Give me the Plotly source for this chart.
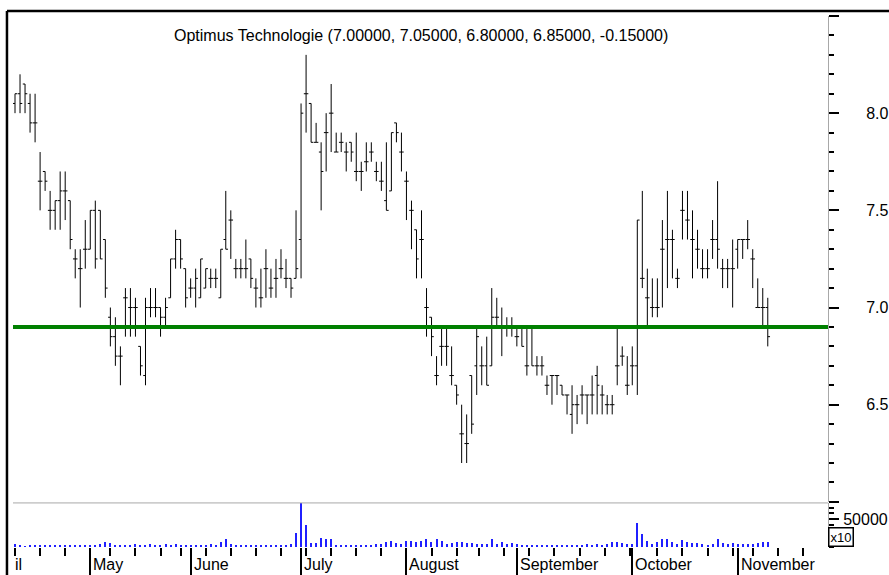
import plotly.graph_objects as go

# Daily OHLC for Optimus Technologie
opens = [
    8.05, 8.10, 8.15, 8.05, 7.95, 7.65, 7.70, 7.50, 7.50, 7.55,
    7.60, 7.55, 7.25, 7.20, 7.30, 7.30, 7.50, 7.50, 7.35, 6.95,
    6.85, 6.75, 7.05, 7.00, 7.00, 6.80, 6.65, 7.00, 7.00, 7.00,
    6.95, 7.05, 7.25, 7.35, 7.20, 7.10, 7.10, 7.05, 7.10, 7.15,
    7.15, 7.05, 7.35, 7.45, 7.20, 7.20, 7.20, 7.25, 7.10, 7.05,
    7.20, 7.10, 7.15, 7.20, 7.15, 7.15, 7.15, 7.35, 8.10, 8.05,
    7.85, 7.80, 7.90, 8.00, 7.80, 7.85, 7.80, 7.85, 7.70, 7.70,
    7.75, 7.80, 7.70, 7.65, 7.55, 7.60, 7.95, 7.80, 7.65, 7.50,
    7.40, 7.35, 7.00, 6.95, 6.65, 6.80, 6.80, 6.65, 6.60, 6.35,
    6.30, 6.65, 6.70, 6.70, 6.70, 6.70, 6.95, 6.90, 6.90, 6.90,
    6.85, 6.90, 6.70, 6.90, 6.70, 6.70, 6.60, 6.65, 6.65, 6.60,
    6.55, 6.45, 6.50, 6.55, 6.55, 6.55, 6.65, 6.55, 6.50, 6.50,
    6.70, 6.75, 6.60, 6.70, 6.70, 7.15, 7.05, 7.00, 7.00, 7.30,
    7.35, 7.35, 7.15, 7.50, 7.45, 7.35, 7.30, 7.20, 7.20, 7.35,
    7.35, 7.20, 7.20, 7.20, 7.30, 7.35, 7.35, 7.25, 7.00, 7.00, 7.00,
]
highs = [
    8.10, 8.20, 8.15, 8.10, 8.10, 7.80, 7.70, 7.60, 7.55, 7.70,
    7.70, 7.55, 7.30, 7.30, 7.45, 7.50, 7.55, 7.50, 7.35, 7.00,
    6.95, 6.80, 7.10, 7.10, 7.05, 6.80, 7.05, 7.10, 7.10, 7.00,
    7.05, 7.25, 7.40, 7.35, 7.20, 7.15, 7.20, 7.25, 7.20, 7.20,
    7.20, 7.30, 7.60, 7.50, 7.25, 7.25, 7.35, 7.25, 7.15, 7.20,
    7.30, 7.20, 7.25, 7.30, 7.25, 7.15, 7.50, 8.05, 8.30, 8.05,
    7.95, 7.85, 8.00, 8.15, 7.90, 7.90, 7.85, 7.85, 7.90, 7.75,
    7.85, 7.85, 7.75, 7.75, 7.85, 7.90, 7.95, 7.90, 7.70, 7.55,
    7.40, 7.50, 7.10, 6.95, 6.75, 6.90, 6.90, 6.80, 6.60, 6.50,
    6.45, 6.65, 6.90, 6.80, 6.85, 7.10, 7.05, 7.00, 6.95, 6.95,
    6.90, 6.90, 6.90, 6.90, 6.75, 6.75, 6.65, 6.65, 6.65, 6.60,
    6.55, 6.60, 6.55, 6.60, 6.55, 6.65, 6.70, 6.60, 6.55, 6.55,
    6.90, 6.80, 6.75, 6.80, 7.45, 7.60, 7.20, 7.15, 7.15, 7.45,
    7.60, 7.40, 7.20, 7.60, 7.60, 7.50, 7.40, 7.30, 7.30, 7.45,
    7.65, 7.25, 7.25, 7.35, 7.35, 7.35, 7.45, 7.30, 7.15, 7.10, 7.05,
]
lows = [
    8.00, 8.00, 8.00, 7.90, 7.85, 7.50, 7.60, 7.40, 7.40, 7.40,
    7.45, 7.30, 7.15, 7.00, 7.20, 7.30, 7.20, 7.25, 7.05, 6.80,
    6.70, 6.60, 6.85, 6.85, 6.85, 6.65, 6.60, 6.95, 6.95, 6.85,
    6.90, 7.05, 7.20, 7.20, 7.00, 7.05, 7.00, 7.05, 7.10, 7.10,
    7.10, 7.05, 7.30, 7.25, 7.15, 7.15, 7.15, 7.10, 7.00, 7.00,
    7.05, 7.05, 7.05, 7.15, 7.10, 7.05, 7.15, 7.15, 7.90, 7.85,
    7.85, 7.50, 7.70, 7.80, 7.80, 7.80, 7.70, 7.75, 7.65, 7.60,
    7.70, 7.75, 7.65, 7.60, 7.50, 7.60, 7.85, 7.70, 7.45, 7.30,
    7.15, 7.15, 6.85, 6.75, 6.60, 6.70, 6.70, 6.60, 6.50, 6.20,
    6.20, 6.35, 6.55, 6.60, 6.60, 6.70, 6.90, 6.75, 6.85, 6.85,
    6.80, 6.80, 6.65, 6.70, 6.65, 6.65, 6.55, 6.50, 6.55, 6.55,
    6.45, 6.35, 6.40, 6.45, 6.40, 6.45, 6.45, 6.45, 6.45, 6.45,
    6.60, 6.70, 6.55, 6.60, 6.55, 7.10, 6.90, 6.95, 6.95, 7.00,
    7.10, 7.15, 7.10, 7.35, 7.35, 7.15, 7.20, 7.15, 7.15, 7.25,
    7.20, 7.10, 7.10, 7.00, 7.20, 7.25, 7.30, 7.10, 7.00, 6.90, 6.80,
]
closes = [
    8.10, 8.05, 8.10, 7.95, 7.95, 7.65, 7.65, 7.50, 7.55, 7.60,
    7.60, 7.35, 7.25, 7.20, 7.30, 7.50, 7.25, 7.25, 7.10, 6.85,
    6.75, 6.75, 7.05, 7.00, 7.00, 6.70, 7.00, 7.00, 7.00, 6.95,
    7.00, 7.25, 7.35, 7.25, 7.05, 7.10, 7.15, 7.25, 7.20, 7.15,
    7.15, 7.30, 7.30, 7.45, 7.20, 7.20, 7.20, 7.15, 7.10, 7.05,
    7.20, 7.10, 7.15, 7.20, 7.15, 7.10, 7.20, 8.00, 8.10, 7.85,
    7.85, 7.70, 7.90, 8.00, 7.80, 7.85, 7.80, 7.80, 7.70, 7.70,
    7.75, 7.80, 7.70, 7.65, 7.50, 7.90, 7.90, 7.80, 7.65, 7.50,
    7.25, 7.35, 7.00, 6.85, 6.65, 6.80, 6.80, 6.65, 6.55, 6.35,
    6.30, 6.40, 6.85, 6.70, 6.60, 6.95, 6.95, 6.90, 6.90, 6.90,
    6.85, 6.80, 6.70, 6.70, 6.70, 6.70, 6.60, 6.65, 6.65, 6.55,
    6.55, 6.50, 6.50, 6.55, 6.55, 6.55, 6.60, 6.55, 6.50, 6.50,
    6.70, 6.75, 6.60, 6.70, 7.45, 7.15, 7.05, 7.00, 7.00, 7.30,
    7.35, 7.35, 7.15, 7.50, 7.45, 7.35, 7.30, 7.20, 7.20, 7.35,
    7.30, 7.20, 7.20, 7.20, 7.35, 7.35, 7.35, 7.25, 7.00, 7.00, 6.85,
]
volumes = [
    5000, 3500, 2500, 4500, 4000, 4500, 3500, 4000, 4500, 4000, 3500, 4500, 4000, 4500, 4000,
    4500, 4000, 5000, 9000, 7000, 4000, 4500, 4000, 4500, 6000, 4000, 4500, 5500, 4500, 4000,
    5500, 4500, 6000, 4500, 4000,
    4500, 4000, 4000, 4500, 5000, 4000, 9000, 14000, 6000, 4000, 4500, 4000, 4000, 4500, 4000,
    4000, 4500, 4000, 4500, 4000, 5000, 25000,
    78000, 39000, 7000, 7000, 16000, 14000, 14000, 4500, 4000, 4000, 4500, 4000, 4000, 4500,
    4000, 5000, 6000, 9000, 11000, 7000, 5000,
    11000, 11000, 9000, 11000, 14000, 9000, 14000, 11000, 6000, 8000, 9000, 9000, 8000, 8000,
    6000, 5000, 6000, 14000, 6000, 9000, 6000, 8000, 5000,
    4000, 4500, 4000, 4000, 4500, 4000, 4000, 4500, 4000, 4000, 4500, 4000, 4000, 5500, 4000,
    5000, 4000, 5500, 9000, 9000, 7000, 5000, 6000,
    43000, 23000, 11000, 6000, 9000, 14000, 14000, 9000, 6000, 12000, 9000, 8000, 8000, 6000,
    4000, 6000, 14000, 8000, 6000, 8000, 6000, 5000, 5000, 5000, 8000, 9000, 9000,
]
days = list(range(len(closes)))

# month boundaries (trading-day index) and week starts
month_labels = ["May", "June", "July", "August", "September", "October", "November"]
month_start = [15, 35, 57, 78, 100, 123, 144]
week_start = [0, 5, 10, 15, 19, 24, 29, 33, 38, 43, 48, 53, 58, 63, 68, 73, 78, 83, 88,
              92.5, 97.5, 102.5, 107.5, 112.5, 117.5, 122.5, 128, 133, 138, 143, 147, 152, 157]
price_ticks = [6.0, 6.5, 7.0, 7.5, 8.0, 8.5]
price_labels = ["", "6.5", "7.0", "7.5", "8.0", ""]
support_level = 6.9

title_text = "Optimus Technologie (7.00000, 7.05000, 6.80000, 6.85000, -0.15000)"
FONT = "Liberation Sans, Arial, sans-serif"

fig = go.Figure()

fig.add_trace(go.Ohlc(
    x=days, open=opens, high=highs, low=lows, close=closes,
    increasing=dict(line=dict(color="black", width=1)),
    decreasing=dict(line=dict(color="black", width=1)),
    tickwidth=0.45, xaxis="x", yaxis="y", showlegend=False, hoverinfo="skip",
))

fig.add_trace(go.Bar(
    x=days, y=volumes, width=0.22, marker=dict(color="#2020ff", line=dict(width=0)),
    xaxis="x", yaxis="y2", showlegend=False, hoverinfo="skip",
))

fig.update_layout(
    width=889, height=575,
    margin=dict(l=13, r=61, t=16, b=28),
    paper_bgcolor="white", plot_bgcolor="white",
    font=dict(family=FONT, size=16, color="black"),
    bargap=0,
    xaxis=dict(
        range=[-0.4, 162], anchor="y2", showgrid=False, zeroline=False, showline=False,
        automargin=False, rangeslider=dict(visible=False),
        tickmode="array", tickvals=month_start, showticklabels=False,
        ticks="outside", ticklen=30, tickwidth=1.5, tickcolor="black",
        minor=dict(tickmode="array", tickvals=week_start, ticks="outside",
                   ticklen=8, tickwidth=1.5, tickcolor="black"),
    ),
    yaxis=dict(
        domain=[0.085, 1], range=[6.0, 8.5], side="right", anchor="x", automargin=False,
        showgrid=False, zeroline=False, showline=True, linecolor="#a8a8a8", linewidth=1,
        tickmode="array", tickvals=price_ticks, ticktext=price_labels,
        ticks="outside", ticklen=10, tickwidth=1.5, tickcolor="black",
        ticklabelstandoff=24, tickfont=dict(size=16),
        minor=dict(dtick=0.1, ticks="outside", ticklen=5, tickwidth=1.5, tickcolor="black"),
    ),
    yaxis2=dict(
        domain=[0, 0.083], range=[0, 78500], side="right", anchor="x", automargin=False,
        showgrid=False, zeroline=False, showline=True, linecolor="#a8a8a8", linewidth=1,
        tickmode="array", tickvals=[50000], ticktext=["50000"],
        ticks="outside", ticklen=10, tickwidth=1.5, tickcolor="black",
        ticklabelstandoff=1, tickfont=dict(size=16),
        minor=dict(dtick=10000, ticks="outside", ticklen=5, tickwidth=1.5, tickcolor="black"),
    ),
)

# support line
fig.add_shape(type="line", xref="paper", x0=0, x1=1, yref="y", y0=support_level, y1=support_level,
              line=dict(color="#008000", width=4))
# separator between price and volume panels
fig.add_shape(type="line", xref="paper", x0=0, x1=1, yref="paper", y0=0.083, y1=0.083,
              line=dict(color="#a8a8a8", width=1))
# outer frame (top and left)
fig.add_shape(type="line", xref="paper", x0=-0.0074, x1=1.1, yref="paper", y0=1.0094, y1=1.0094,
              line=dict(color="black", width=2.5))
fig.add_shape(type="line", xref="paper", x0=-0.0074, x1=-0.0074, yref="paper", y0=-0.1, y1=1.0094,
              line=dict(color="black", width=2.5))

fig.add_annotation(text=title_text, xref="paper", yref="paper", x=0.5, y=0.964,
                   xanchor="center", yanchor="middle", showarrow=False,
                   font=dict(family=FONT, size=16))

for lab, pos in zip(month_labels, month_start):
    fig.add_annotation(text=lab, x=pos, xref="x", yref="paper", y=-0.014,
                       xanchor="left", yanchor="top", showarrow=False, xshift=1,
                       font=dict(family=FONT, size=16))
fig.add_annotation(text="il", x=-0.4, xref="x", yref="paper", y=-0.014,
                   xanchor="left", yanchor="top", showarrow=False,
                   font=dict(family=FONT, size=16))

fig.add_annotation(text="x10", xref="paper", yref="paper", x=1.016, y=0.019,
                   xanchor="center", yanchor="middle", showarrow=False,
                   bordercolor="black", borderwidth=1.5, borderpad=1, bgcolor="white",
                   font=dict(family=FONT, size=13))

# the page's default body margin would shift the figure; remove it
fig.write_html("out.html", config={"displayModeBar": False},
               post_script="document.body.style.margin='0';document.body.style.overflow='hidden';")
